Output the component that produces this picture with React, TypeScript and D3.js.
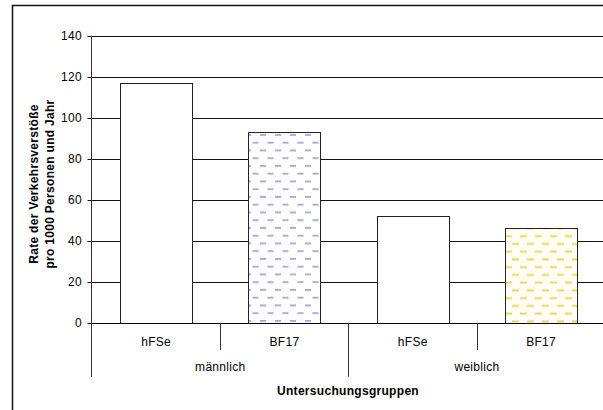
import React from "react";
import * as d3 from "d3";

const groups = ["männlich", "weiblich"];
const categories = ["hFSe", "BF17", "hFSe", "BF17"];
const categoryGroup = [0, 0, 1, 1];
const values = [117, 93, 52, 46];
const fills = ["white", "url(#patBlue)", "white", "url(#patYellow)"];
const yTicks = [0, 20, 40, 60, 80, 100, 120, 140];
const yTitle = ["Rate der Verkehrsverstöße", "pro 1000 Personen und Jahr"];
const xTitle = "Untersuchungsgruppen";

export default function App() {
  const W = 603, H = 410;
  const left = 92, right = 605.3, top = 35.7, bottom = 322.7;
  const x = d3.scaleBand<number>().domain(categories.map((_, i) => i)).range([left, right]).paddingInner(0).paddingOuter(0);
  const y = d3.scaleLinear().domain([0, 140]).range([bottom, top]);
  const barFrac = 0.561;
  const bw = x.bandwidth() * barFrac;
  const font = "'Liberation Sans', Arial, sans-serif";
  const fs = 12;
  const ls = 0.3;
  const groupEdges = [left, x(2)!, right];
  return (
    <svg width={W} height={H} style={{ position: "absolute", left: 0, top: 0, background: "white" }} fontFamily={font}>
      <defs>
        <pattern id="patBlue" patternUnits="userSpaceOnUse" width={15} height={15.5} x={249} y={134}>
          <rect x={0} y={0} width={15} height={15.5} fill="white" />
          <rect x={11} y={0} width={6} height={1.8} fill="#a3a3ff" />
          <rect x={-4} y={0} width={6} height={1.8} fill="#a3a3ff" />
          <rect x={3.5} y={7.75} width={6} height={1.8} fill="#a3a3ff" />
        </pattern>
        <pattern id="patYellow" patternUnits="userSpaceOnUse" width={15} height={15.5} x={505} y={227}>
          <rect x={0} y={0} width={15} height={15.5} fill="white" />
          <rect x={7} y={0.5} width={7} height={1.8} fill="#ffd21f" />
          <rect x={0} y={8.25} width={7} height={1.8} fill="#ffd21f" />
          <rect x={15} y={8.25} width={7} height={1.8} fill="#ffd21f" />
        </pattern>
      </defs>
      <rect x={0} y={0} width={W} height={H} fill="white" />
      <rect x={12.5} y={5.5} width={700} height={500} fill="none" stroke="#111" strokeWidth={1.5} />
      {/* gridlines */}
      {yTicks.map((t) => (
        <g key={t}>
          <line x1={left} x2={right + 5} y1={Math.round(y(t)) + 0.5} y2={Math.round(y(t)) + 0.5} stroke="#111" strokeWidth={1} />
          <line x1={left - 4.5} x2={left} y1={Math.round(y(t)) + 0.5} y2={Math.round(y(t)) + 0.5} stroke="#111" strokeWidth={1} />
          <text x={82} y={y(t)} dy="0.36em" textAnchor="end" fontSize={fs} letterSpacing={ls} fill="#000">{t}</text>
        </g>
      ))}
      {/* bars */}
      {values.map((v, i) => {
        const bx = x(i)! + (x.bandwidth() - bw) / 2;
        return (
          <rect key={i} x={Math.round(bx) + 0.5} y={Math.round(y(v)) + 0.5} width={Math.round(bw)} height={Math.round(y(0)) - Math.round(y(v))}
            fill={fills[i]} stroke="#222" strokeWidth={1} />
        );
      })}
      {/* axis */}
      <line x1={left - 0.5} x2={left - 0.5} y1={top} y2={376.7} stroke="#333" strokeWidth={1} />
      <line x1={left} x2={right + 5} y1={Math.round(y(0)) + 0.5} y2={Math.round(y(0)) + 0.5} stroke="#000" strokeWidth={1.2} />
      {/* category separators */}
      {categories.map((_, i) => (categoryGroup[i] === (i > 0 ? categoryGroup[i - 1] : -1) ? (
        <line key={"s" + i} x1={Math.round(x(i)!) + 0.5} x2={Math.round(x(i)!) + 0.5} y1={y(0)} y2={350} stroke="#333" strokeWidth={1} />
      ) : null))}
      {groupEdges.map((gx, i) => (
        <line key={"g" + i} x1={Math.round(gx) - 0.5} x2={Math.round(gx) - 0.5} y1={y(0)} y2={376.7} stroke="#333" strokeWidth={1} />
      ))}
      {categories.map((c, i) => (
        <text key={"c" + i} x={x(i)! + x.bandwidth() / 2} y={346} textAnchor="middle" fontSize={fs} letterSpacing={ls} fill="#000">{c}</text>
      ))}
      {groups.map((g, gi) => (
        <text key={"gl" + gi} x={(groupEdges[gi] + groupEdges[gi + 1]) / 2} y={371} textAnchor="middle" fontSize={fs} letterSpacing={ls} fill="#000">{g}</text>
      ))}
      <text x={348} y={394.5} textAnchor="middle" fontSize={fs} fontWeight="bold" letterSpacing={ls} fill="#000">{xTitle}</text>
      {yTitle.map((t, i) => (
        <text key={"yt" + i} transform={`translate(${37.8 + i * 16},184) rotate(-90)`} textAnchor="middle" fontSize={fs} fontWeight="bold" letterSpacing={ls} fill="#000">{t}</text>
      ))}
    </svg>
  );
}
